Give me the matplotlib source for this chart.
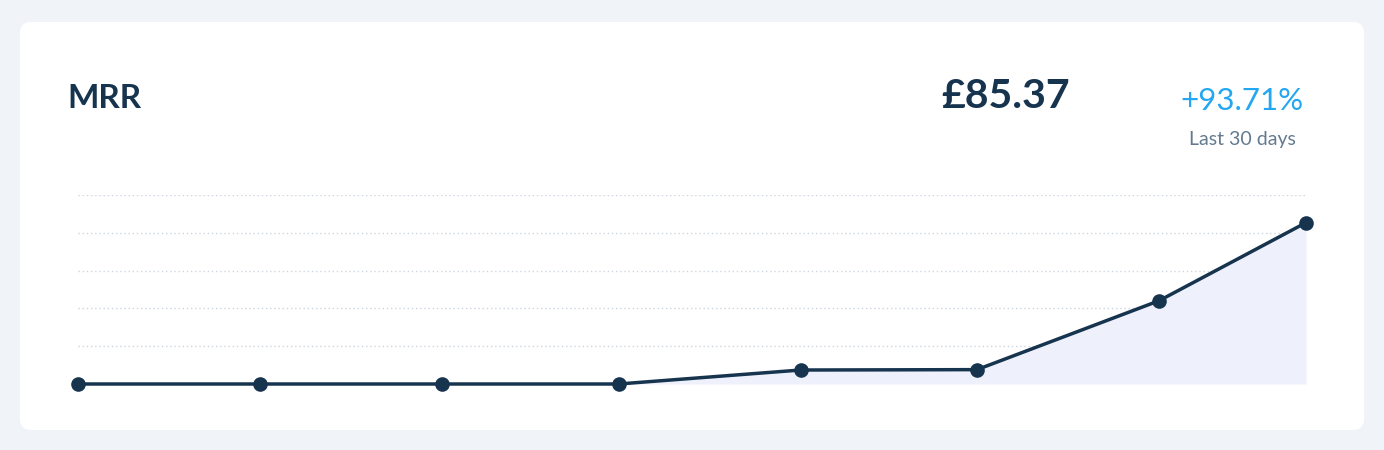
import matplotlib.pyplot as plt
import matplotlib.dates as mdates
from matplotlib.patches import FancyBboxPatch
import numpy as np

# -----------------------------------------------------------------------------
# Data (monthly MRR in GBP)
dates = ["2018-07-01", "2018-08-01", "2018-09-01", "2018-10-01",
         "2018-11-01", "2018-12-01", "2019-01-01", "2019-01-26"]
mrr = [0.0, 0.0, 0.0, 0.0, 7.4, 7.6, 44.07, 85.37]
grid_levels = [20, 40, 60, 80, 100]

title = "MRR"
current_value = "£85.37"
change_text = "+93.71%"
period_text = "Last 30 days"

# -----------------------------------------------------------------------------
W, H = 1384, 450
navy = "#17344f"
fill_col = "#eef1fb"
page_bg = "#f0f4f9"

plt.rcParams['font.family'] = ['Lato', 'DejaVu Sans']

fig = plt.figure(figsize=(W / 100, H / 100), dpi=100)
fig.patch.set_facecolor(page_bg)

# white card (behind the axes)
card = FancyBboxPatch((20 / W, (H - 430) / H), 1344 / W, 408 / H,
                      boxstyle="round,pad=0,rounding_size=0.008",
                      transform=fig.transFigure, facecolor="white",
                      edgecolor="none", zorder=-5, mutation_aspect=W / H)
fig.patches.append(card)

# headline texts
fig.text(67 / W, 1 - 98 / H, title, fontsize=24, fontweight='bold',
         color=navy, va='center', ha='left')
fig.text(1070 / W, 1 - 97 / H, current_value, fontsize=29.5, fontweight='bold',
         color=navy, va='center', ha='right')
fig.text(1242 / W, 1 - 101 / H, change_text, fontsize=22.5, fontweight='normal',
         color="#22a7f0", va='center', ha='center')
fig.text(1242 / W, 1 - 139 / H, period_text, fontsize=14,
         color="#637a8e", va='center', ha='center')

# chart area
ax = fig.add_axes([78 / W, (H - 384) / H, (1306 - 78) / W, (384 - 195) / H])
ax.set_facecolor("none")
x = mdates.datestr2num(dates)
y = np.array(mrr)

for g in grid_levels:
    ax.axhline(g, color="#cdd6e0", linewidth=1, linestyle=(0, (1, 2)), zorder=1)

ax.fill_between(x, 0, y, color=fill_col, linewidth=0, zorder=2)
ax.plot(x, y, color=navy, linewidth=2.5, marker='o', markersize=9.5,
        clip_on=False, zorder=3, solid_joinstyle='round')

ax.set_xlim(x[0], x[-1])
ax.set_ylim(0, 100)
ax.set_xticks([])
ax.set_yticks([])
for s in ax.spines.values():
    s.set_visible(False)

fig.savefig("out.png", dpi=100, facecolor=fig.get_facecolor())
